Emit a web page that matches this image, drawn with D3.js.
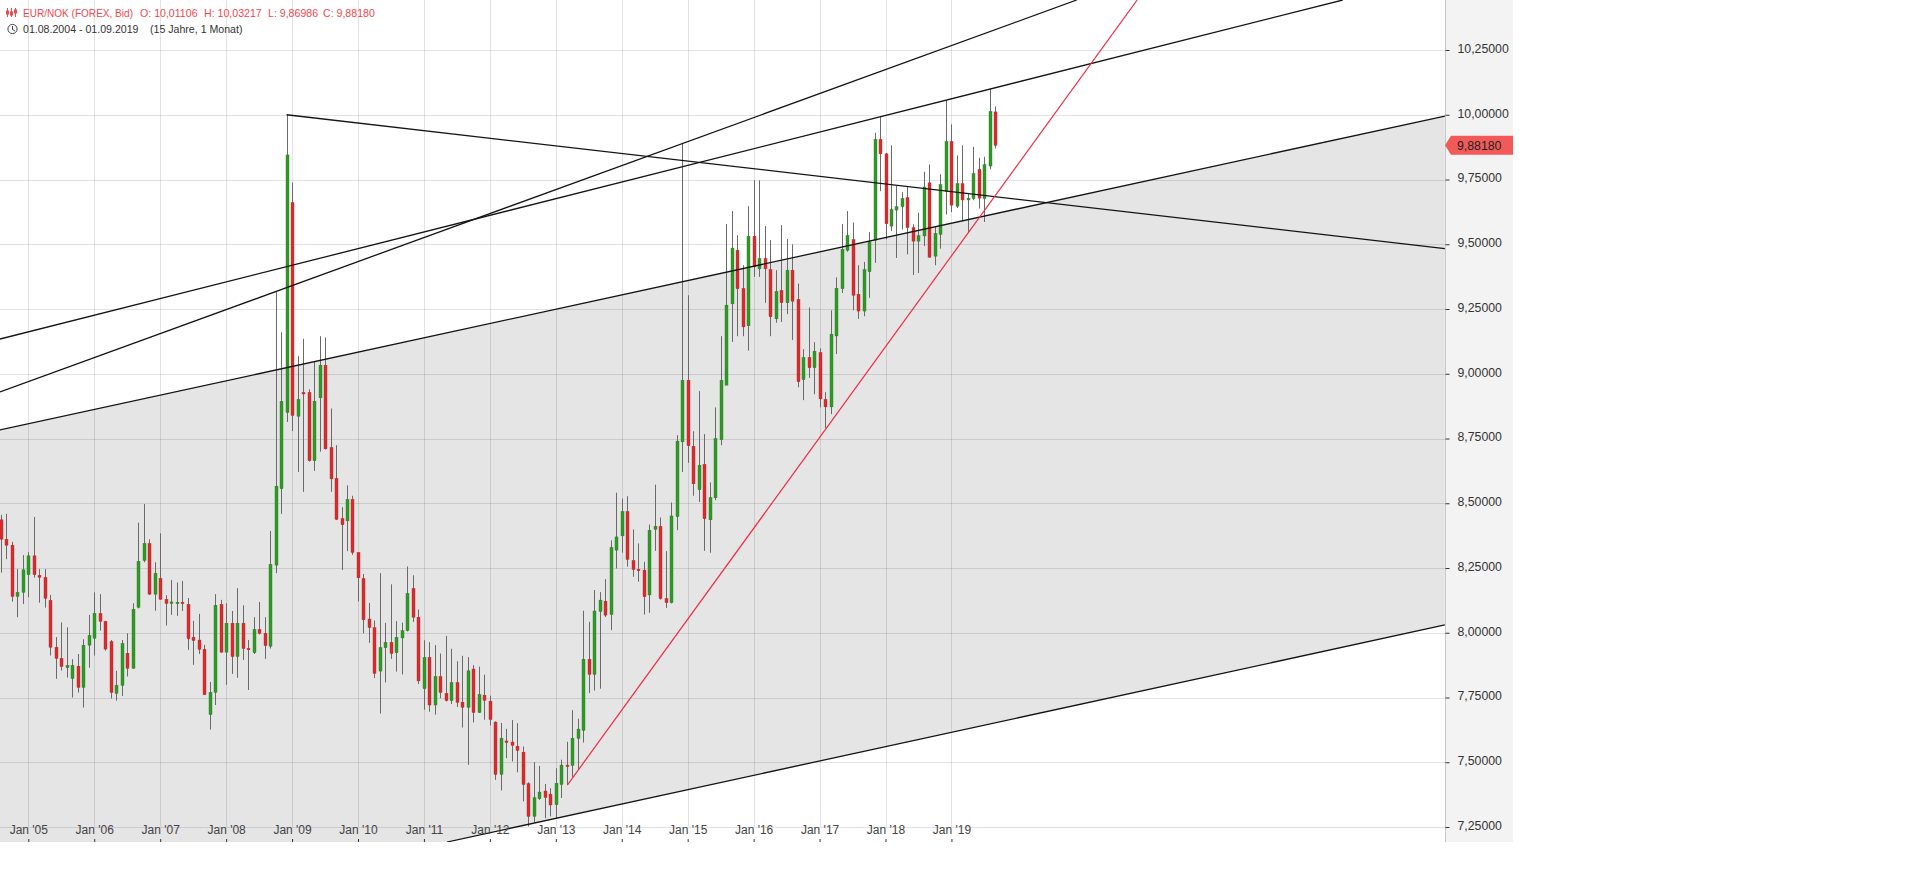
<!DOCTYPE html>
<html><head><meta charset="utf-8">
<style>
html,body{margin:0;padding:0;background:#fff;overflow:hidden}
svg{display:block}
text{font-family:"Liberation Sans",Arial,sans-serif}
</style>
<script src="https://cdn.jsdelivr.net/npm/d3@7/dist/d3.min.js"></script>
</head><body><svg id="c" width="1914" height="869"></svg>
<script>
// Monthly candles, Aug 2004 (index 0) to Sep 2019 (index 181)
const opens=[
8.436,8.361,8.338,8.140,8.156,8.224,8.297,8.222,8.214,8.125,
7.944,7.901,7.865,7.823,7.871,7.789,7.952,7.979,8.075,8.044,
7.966,7.766,7.797,7.921,7.863,8.098,8.279,8.345,8.149,8.210,
8.129,8.113,8.115,8.118,8.110,7.983,7.972,7.936,7.684,7.770,
8.110,7.925,8.037,7.908,8.037,7.940,7.923,8.013,7.998,7.948,
8.261,8.556,8.850,9.661,8.836,8.928,8.928,8.664,8.907,9.033,
8.715,8.596,8.441,8.432,8.515,8.310,8.209,8.053,8.020,7.852,
7.942,7.963,7.923,7.980,8.008,8.171,8.060,7.784,7.905,7.721,
7.831,7.766,7.738,7.808,7.732,7.712,7.860,7.692,7.759,7.736,
7.655,7.453,7.582,7.578,7.562,7.539,7.417,7.291,7.359,7.389,
7.377,7.336,7.414,7.489,7.488,7.592,7.623,7.898,7.839,8.082,
8.122,8.070,8.319,8.374,8.468,8.279,8.245,8.242,8.146,8.399,
8.411,8.132,8.116,8.448,8.737,8.975,8.720,8.552,8.650,8.436,
8.521,8.745,8.956,9.270,9.477,9.329,9.185,9.531,9.405,9.445,
9.402,9.212,9.322,9.274,9.400,9.287,8.977,9.063,9.023,9.082,
8.901,8.872,9.146,9.328,9.477,9.518,9.307,9.242,9.394,9.516,
9.905,9.849,9.570,9.632,9.645,9.680,9.564,9.512,9.532,9.737,
9.454,9.538,9.703,9.897,9.647,9.734,9.671,9.676,9.789,9.676,
9.802,10.01106];
const highs=[
8.455,8.459,8.351,8.246,8.300,8.311,8.447,8.246,8.246,8.146,
7.983,8.040,8.021,7.898,7.918,7.975,8.069,8.156,8.149,8.046,
7.972,7.853,7.972,7.998,8.114,8.425,8.497,8.361,8.272,8.384,
8.145,8.204,8.194,8.200,8.134,8.046,8.073,7.953,7.810,8.149,
8.127,8.114,8.084,8.172,8.106,7.972,8.060,8.119,8.060,8.393,
9.315,9.160,10.000,9.738,9.068,9.135,8.940,9.046,9.145,9.140,
8.866,8.724,8.485,8.569,8.529,8.310,8.227,8.115,8.047,8.230,
8.038,8.187,8.045,8.039,8.256,8.222,8.090,7.971,7.964,7.952,
7.920,7.988,7.938,7.890,7.911,7.906,7.875,7.869,7.838,7.757,
7.658,7.652,7.629,7.663,7.651,7.561,7.423,7.501,7.486,7.416,
7.400,7.477,7.510,7.579,7.701,7.668,8.085,8.042,8.165,8.157,
8.207,8.357,8.541,8.518,8.527,8.399,8.345,8.274,8.418,8.572,
8.445,8.315,8.503,8.763,9.892,9.303,8.778,8.933,8.767,8.580,
8.870,9.145,9.578,9.628,9.535,9.419,9.647,9.747,9.747,9.570,
9.516,9.400,9.574,9.520,9.500,9.348,9.095,9.256,9.122,9.098,
8.929,9.245,9.372,9.578,9.628,9.584,9.419,9.432,9.547,9.930,
9.992,9.853,9.882,9.725,9.701,9.722,9.577,9.622,9.780,9.808,
9.570,9.770,10.057,9.963,9.843,9.882,9.696,9.876,9.834,9.838,
10.100,10.03217];
const lows=[
8.232,8.284,8.120,8.060,8.111,8.137,8.213,8.116,8.097,7.912,
7.822,7.854,7.827,7.750,7.769,7.711,7.865,7.912,8.008,7.931,
7.746,7.738,7.756,7.831,7.860,8.094,8.272,8.146,8.085,8.127,
8.028,8.069,8.065,8.084,7.934,7.876,7.918,7.760,7.626,7.721,
7.923,7.799,7.841,7.826,7.895,7.779,7.918,7.993,7.899,7.939,
8.230,8.459,8.814,8.779,8.621,8.544,8.661,8.625,8.699,8.707,
8.544,8.435,8.242,8.315,8.301,8.121,7.998,7.961,7.825,7.688,
7.808,7.899,7.850,7.839,8.005,8.042,7.802,7.703,7.695,7.684,
7.747,7.735,7.725,7.713,7.634,7.490,7.654,7.690,7.664,7.642,
7.432,7.391,7.516,7.503,7.461,7.349,7.252,7.268,7.355,7.284,
7.291,7.284,7.362,7.413,7.443,7.471,7.576,7.767,7.777,7.784,
8.061,8.010,8.248,8.309,8.255,8.216,8.197,8.070,8.077,8.316,
8.128,8.096,8.113,8.396,8.621,8.656,8.529,8.505,8.316,8.309,
8.512,8.724,8.956,9.123,9.145,9.145,9.089,9.374,9.374,9.274,
9.145,9.197,9.200,9.230,9.130,8.948,8.898,8.984,8.921,8.870,
8.789,8.844,9.076,9.312,9.471,9.245,9.212,9.222,9.293,9.428,
9.705,9.519,9.551,9.447,9.557,9.461,9.381,9.389,9.493,9.448,
9.419,9.483,9.615,9.624,9.640,9.589,9.544,9.670,9.638,9.586,
9.789,9.86986];
const closes=[
8.361,8.338,8.140,8.156,8.243,8.297,8.224,8.214,8.133,7.944,
7.901,7.869,7.874,7.874,7.789,7.952,7.990,8.075,8.044,7.937,
7.769,7.797,7.959,7.863,8.091,8.276,8.345,8.149,8.230,8.129,
8.113,8.119,8.118,8.113,7.977,7.970,7.936,7.761,7.770,8.106,
7.925,8.037,7.908,8.037,7.939,7.935,8.013,7.998,7.950,8.264,
8.566,8.894,9.845,8.839,8.901,8.922,8.664,8.894,9.033,8.710,
8.594,8.438,8.417,8.515,8.310,8.212,8.050,8.020,7.843,7.943,
7.963,7.920,7.982,8.008,8.152,8.060,7.814,7.905,7.721,7.831,
7.769,7.738,7.808,7.731,7.712,7.853,7.692,7.761,7.739,7.665,
7.453,7.593,7.577,7.565,7.546,7.414,7.291,7.363,7.385,7.364,
7.335,7.419,7.489,7.484,7.593,7.628,7.898,7.839,8.084,8.126,
8.068,8.329,8.370,8.468,8.283,8.244,8.242,8.139,8.396,8.411,
8.132,8.116,8.451,8.740,8.975,8.722,8.575,8.647,8.440,8.522,
8.750,8.975,9.265,9.485,9.328,9.181,9.531,9.413,9.445,9.405,
9.220,9.318,9.274,9.400,9.280,8.969,9.063,9.023,9.087,8.903,
8.872,9.153,9.330,9.480,9.534,9.303,9.242,9.402,9.509,9.905,
9.849,9.579,9.634,9.645,9.677,9.564,9.512,9.533,9.721,9.450,
9.542,9.730,9.897,9.651,9.734,9.671,9.677,9.773,9.678,9.807,
10.013,9.8818];

const yearTickIndex=[5,17,29,41,53,65,77,89,101,113,125,137,149,161,173];
const yearTickLabels=["Jan '05","Jan '06","Jan '07","Jan '08","Jan '09","Jan '10","Jan '11","Jan '12","Jan '13","Jan '14","Jan '15","Jan '16","Jan '17","Jan '18","Jan '19"];
const priceTicks=[7.25,7.5,7.75,8,8.25,8.5,8.75,9,9.25,9.5,9.75,10,10.25];
const lastPrice=9.8818;

// Drawn trend lines: [[month index, price],[month index, price]]
const trendUpperA=[[-0.15,9.134],[244.2,10.443]];
const trendUpperB=[[-0.15,8.930],[195.8,10.443]];
const channelTop=[[-0.15,8.783],[262.8,9.995]];
const channelBottom=[[81.2,7.192],[262.8,8.030]];
const trendDown=[[52,10.0],[262.8,9.483]];
const trendRed=[[103.1,7.412],[206.8,10.443]];

const headerRed="EUR/NOK (FOREX, Bid)";
const headerOHLC=["O: 10,01106","H: 10,03217","L: 9,86986","C: 9,88180"];
const headerRange="01.08.2004 - 01.09.2019";
const headerSpan="(15 Jahre, 1 Monat)";

const plotW=1445, plotB=842, panelR=1513;
const x=d3.scaleLinear().domain([5,181]).range([28.3,995.4]);
const y=d3.scaleLinear().domain([7.25,10.25]).range([827,50]);
const svg=d3.select("#c");
const deC=v=>d3.format(".5f")(v).replace(".",",");

svg.append("defs").append("clipPath").attr("id","plot").append("rect")
  .attr("width",plotW).attr("height",plotB);

// value-axis panel
svg.append("rect").attr("x",plotW).attr("y",0).attr("width",panelR-plotW).attr("height",plotB).attr("fill","#f3f3f3");

const plot=svg.append("g").attr("clip-path","url(#plot)");

// channel fill
const lineGen=d3.line().x(d=>x(d[0])).y(d=>y(d[1]));
plot.append("path").attr("fill","#e5e5e6")
  .attr("d",lineGen([channelTop[0],channelTop[1],channelBottom[1],channelBottom[0],[-0.15,channelBottom[0][1]]]));

// grid
plot.append("g").selectAll("line").data(priceTicks).join("line")
  .attr("x1",0).attr("x2",plotW)
  .attr("y1",d=>Math.round(y(d))+.5).attr("y2",d=>Math.round(y(d))+.5)
  .attr("stroke","#000").attr("stroke-opacity",.11);
plot.append("g").selectAll("line").data(yearTickIndex).join("line")
  .attr("x1",d=>Math.round(x(d))+.5).attr("x2",d=>Math.round(x(d))+.5)
  .attr("y1",0).attr("y2",827)
  .attr("stroke","#000").attr("stroke-opacity",.11);

// candles
const candles=d3.range(opens.length).map(i=>({i,o:opens[i],h:highs[i],l:lows[i],c:closes[i]}));
const cx=d=>Math.round(x(d.i));
const g=plot.append("g");
g.selectAll("line").data(candles).join("line")
  .attr("x1",d=>cx(d)+.5).attr("x2",d=>cx(d)+.5)
  .attr("y1",d=>y(d.h)).attr("y2",d=>y(d.l))
  .attr("stroke","#6a6a6a").attr("stroke-width",1);
g.selectAll("rect").data(candles).join("rect")
  .attr("x",d=>cx(d)-1).attr("width",3)
  .attr("y",d=>y(Math.max(d.o,d.c)))
  .attr("height",d=>Math.max(1.5,Math.abs(y(d.o)-y(d.c))))
  .attr("fill",d=>d.c>=d.o?"#2f9a22":"#d92a2c")
  .attr("stroke",d=>d.c>=d.o?"#2b7a24":"#b8282a").attr("stroke-width",.4);

// trend lines
[trendUpperA,trendUpperB,channelTop,channelBottom,trendDown].forEach(l=>{
  plot.append("path").attr("d",lineGen(l)).attr("fill","none").attr("stroke","#141414").attr("stroke-width",1.3);
});
plot.append("path").attr("d",lineGen(trendRed)).attr("fill","none").attr("stroke","#ee2b40").attr("stroke-width",1.2);

// axes
const yAxis=svg.append("g").attr("transform",`translate(${plotW+.5},0)`)
  .call(d3.axisRight(y).tickValues(priceTicks).tickFormat(deC).tickSize(4).tickPadding(8));
yAxis.select(".domain").attr("d",`M0,0V${plotB}`).attr("stroke","#c8c8c8");
yAxis.selectAll(".tick line").attr("stroke","#333");
yAxis.selectAll("text").attr("font-size",12.3).attr("fill","#333").attr("dy","0.2em").attr("font-family","Liberation Sans");

const labelFor=d3.scaleOrdinal().domain(yearTickIndex).range(yearTickLabels);
const xAxis=svg.append("g").attr("transform",`translate(0,${plotB})`)
  .call(d3.axisTop(x).tickValues(yearTickIndex).tickFormat(labelFor).tickSize(3).tickPadding(5));
xAxis.select(".domain").remove();
xAxis.selectAll(".tick line").attr("stroke","#333");
xAxis.selectAll("text").attr("font-size",12).attr("fill","#444").attr("font-family","Liberation Sans");

// last price tag
const ty=y(lastPrice);
svg.append("path").attr("fill","#f25a5a")
  .attr("d",d3.line()([[plotW,ty],[plotW+6,ty-9.5],[panelR,ty-9.5],[panelR,ty+9.5],[plotW+6,ty+9.5]])+"Z");
svg.append("text").attr("x",plotW+12).attr("y",ty+.5).attr("dy","0.36em").attr("font-size",12.3).attr("fill","#222").text(deC(lastPrice));

// header
const red="#f0484e";
const hf=10.6;
const head=svg.append("g");
head.append("text").attr("x",23).attr("y",17).attr("font-size",hf).attr("fill",red)
  .attr("textLength",110).attr("lengthAdjust","spacingAndGlyphs").text(headerRed);
[140,204,268,323].forEach((px,k)=>head.append("text").attr("x",px).attr("y",17).attr("font-size",hf).attr("fill",red).text(headerOHLC[k]));
head.append("text").attr("x",23).attr("y",33).attr("font-size",hf).attr("fill","#333").text(headerRange);
head.append("text").attr("x",150).attr("y",33).attr("font-size",hf).attr("fill","#333").text(headerSpan);
// icons
const ic=head.append("g").attr("stroke",red).attr("fill","none");
[[7,8,17,11,14],[11,8,17,12,15],[15,8,17,10,13]].forEach(a=>{
  ic.append("line").attr("x1",a[0]+.5).attr("x2",a[0]+.5).attr("y1",a[1]).attr("y2",a[2]);
  ic.append("rect").attr("x",a[0]-.5).attr("y",a[3]).attr("width",2).attr("height",a[4]-a[3]).attr("fill",red);
});
head.append("circle").attr("cx",12.5).attr("cy",29).attr("r",4.6).attr("fill","none").attr("stroke","#444").attr("stroke-width",1);
head.append("path").attr("d","M12.5,26V29.5L15,31").attr("fill","none").attr("stroke","#444");
</script></body></html>
